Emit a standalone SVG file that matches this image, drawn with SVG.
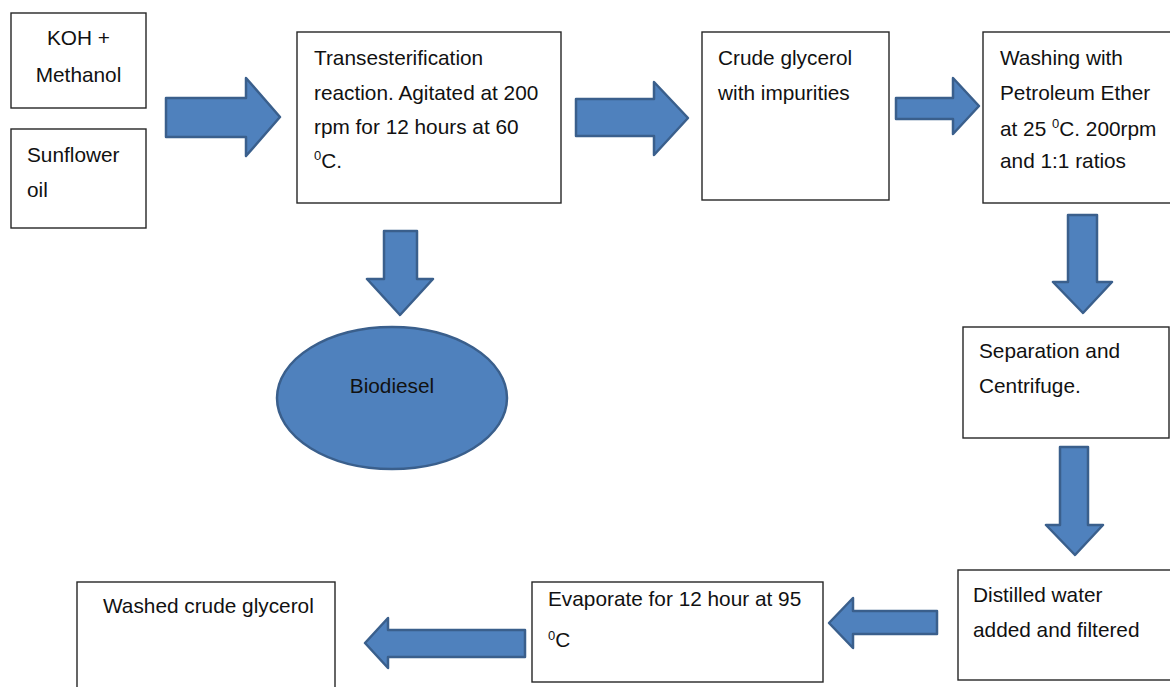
<svg xmlns="http://www.w3.org/2000/svg" width="1170" height="687" viewBox="0 0 1170 687">
<style>
.box{fill:#fff;stroke:#262626;stroke-width:1.4}
.arr{fill:#4F81BD;stroke:#3A5F8C;stroke-width:2.5;stroke-linejoin:round}
.t{font-family:"Liberation Sans",Arial,sans-serif;font-size:20.8px;fill:#111}
.sup{font-size:13px}
</style>
<rect width="1170" height="687" fill="#fff"/>
<g id="connectors">
<polygon class="arr" points="166,98 246,98 246,78 280,117 246,156 246,137 166,137"/>
<polygon class="arr" points="576,99 654,99 654,82 688,118 654,155 654,136 576,136"/>
<polygon class="arr" points="896,98 953,98 953,78 979,106 953,134 953,119 896,119"/>
<polygon class="arr" points="384,231 417,231 417,279 433,279 400,315 367,279 384,279"/>
<polygon class="arr" points="1068,215 1097,215 1097,282 1112,282 1083,313 1053,282 1068,282"/>
<polygon class="arr" points="1060,447 1088,447 1088,525 1103,525 1075,555 1046,525 1060,525"/>
<polygon class="arr" points="937,611 853,611 853,598 829,623 853,648 853,634 937,634"/>
<polygon class="arr" points="525,630 388,630 388,618 365,643 388,668 388,657 525,657"/>
</g>
<g id="koh">
<rect class="box" x="11" y="13" width="135" height="95"/>
<text class="t" x="78.5" y="45" text-anchor="middle">KOH +</text>
<text class="t" x="78.5" y="82" text-anchor="middle">Methanol</text>
</g>
<g id="sunflower">
<rect class="box" x="11" y="129" width="135" height="99"/>
<text class="t" x="27" y="162">Sunflower</text>
<text class="t" x="27" y="197">oil</text>
</g>
<g id="transesterification">
<rect class="box" x="297" y="32" width="264" height="171"/>
<text class="t" x="314" y="65">Transesterification</text>
<text class="t" x="314" y="100">reaction. Agitated at 200</text>
<text class="t" x="314" y="134">rpm for 12 hours at 60</text>
<text class="t" x="314" y="168"><tspan class="sup" dy="-8">0</tspan><tspan dy="8">C.</tspan></text>
</g>
<g id="crude">
<rect class="box" x="702" y="32" width="187" height="168"/>
<text class="t" x="718" y="65">Crude glycerol</text>
<text class="t" x="718" y="100">with impurities</text>
</g>
<g id="washing">
<rect class="box" x="983" y="32" width="190" height="171"/>
<text class="t" x="1000" y="65">Washing with</text>
<text class="t" x="1000" y="100">Petroleum Ether</text>
<text class="t" x="1000" y="136">at 25 <tspan class="sup" dy="-8">0</tspan><tspan dy="8">C. 200rpm</tspan></text>
<text class="t" x="1000" y="168">and 1:1 ratios</text>
</g>
<g id="biodiesel">
<ellipse class="arr" cx="392" cy="398" rx="115" ry="71"/>
<text class="t" x="392" y="393" text-anchor="middle">Biodiesel</text>
</g>
<g id="separation">
<rect class="box" x="963" y="327" width="206" height="111"/>
<text class="t" x="979" y="358">Separation and</text>
<text class="t" x="979" y="393">Centrifuge.</text>
</g>
<g id="distilled">
<rect class="box" x="958" y="570" width="215" height="110"/>
<text class="t" x="973" y="602">Distilled water</text>
<text class="t" x="973" y="637">added and filtered</text>
</g>
<g id="evaporate">
<rect class="box" x="532" y="582" width="291" height="100"/>
<text class="t" x="548" y="606">Evaporate for 12 hour at 95</text>
<text class="t" x="548" y="647"><tspan class="sup" dy="-7">0</tspan><tspan dy="7">C</tspan></text>
</g>
<g id="washed">
<rect class="box" x="77" y="582" width="258" height="110"/>
<text class="t" x="103" y="613">Washed crude glycerol</text>
</g>
</svg>
